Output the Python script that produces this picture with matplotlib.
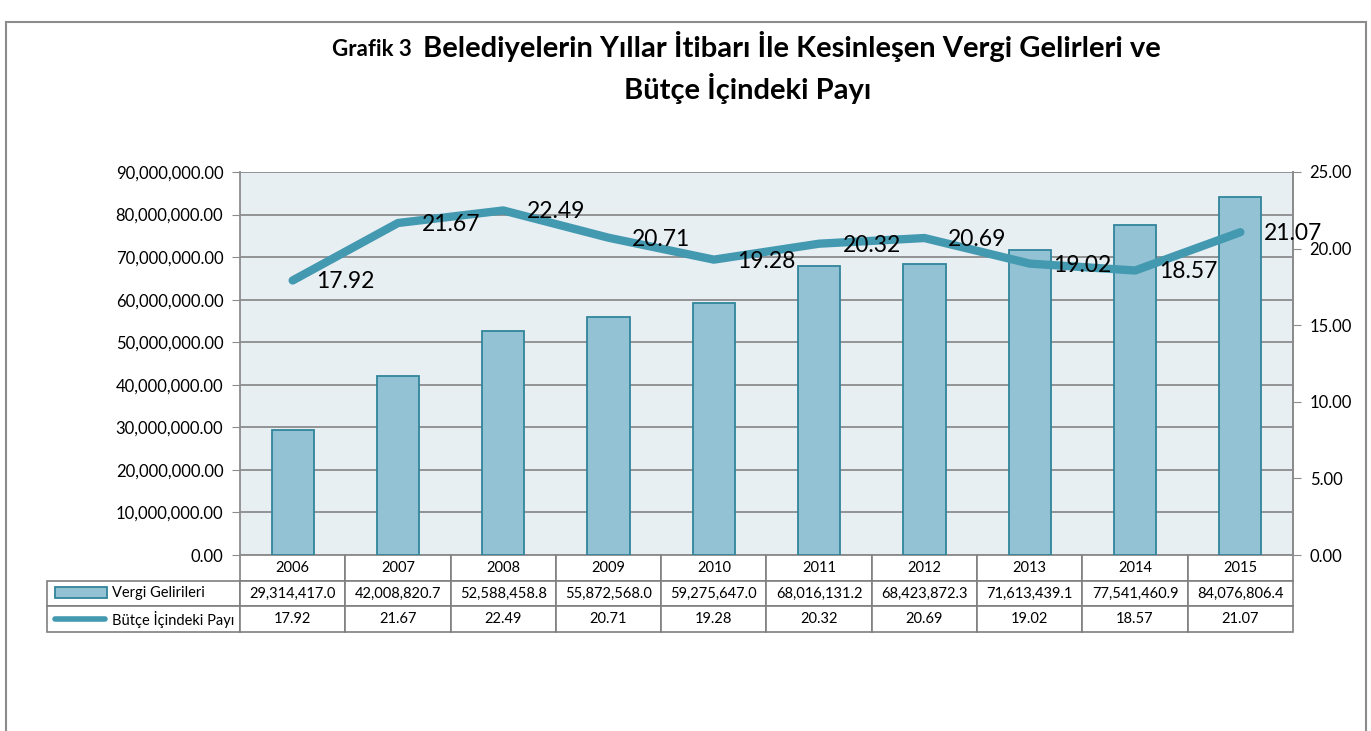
import numpy as np
import matplotlib
matplotlib.use("Agg")
import matplotlib.pyplot as plt
from matplotlib.patches import Rectangle
from matplotlib.lines import Line2D
from matplotlib.ticker import FuncFormatter, MultipleLocator

plt.rcParams['font.family'] = ['Lato', 'DejaVu Sans']

years = ['2006', '2007', '2008', '2009', '2010', '2011', '2012', '2013', '2014', '2015']
vergi = [29314417.0, 42008820.7, 52588458.8, 55872568.0, 59275647.0,
         68016131.2, 68423872.3, 71613439.1, 77541460.9, 84076806.4]
pay = [17.92, 21.67, 22.49, 20.71, 19.28, 20.32, 20.69, 19.02, 18.57, 21.07]
series_names = ['Vergi Gelirileri', 'Bütçe İçindeki Payı']

bar_fill = '#93C2D5'
bar_edge = '#31849B'
line_col = '#4399B0'
grid_col = '#8C8C8C'

W, H = 1371, 731
fig = plt.figure(figsize=(W / 100, H / 100), dpi=100)

# outer frame
fig.patches.append(Rectangle((6 / W, -0.05), 1360 / W, 1.05 - 22 / H,
                             transform=fig.transFigure, fill=False,
                             edgecolor='#8C8C8C', linewidth=1.5))

ax = fig.add_axes([240 / W, 1 - 555 / H, 1053 / W, 383 / H])
ax.set_facecolor('#E8EFF3')
x = np.arange(len(years))
ax.bar(x, vergi, width=0.4, color=bar_fill, edgecolor=bar_edge, linewidth=1.3, zorder=3)
ax.set_xlim(-0.5, len(years) - 0.5)
ax.set_ylim(0, 90000000)
ax.yaxis.set_major_locator(MultipleLocator(10000000))
ax.yaxis.set_major_formatter(FuncFormatter(lambda v, p: f'{v:,.2f}'))
ax.grid(axis='y', color=grid_col, linewidth=1.3, zorder=1)
ax.set_axisbelow(True)
ax.set_xticks([])
for s in ['top', 'bottom']:
    ax.spines[s].set_visible(False)
ax.spines['left'].set_color(grid_col)
ax.spines['left'].set_linewidth(1.3)
ax.spines['right'].set_color(grid_col)
ax.spines['right'].set_linewidth(1.3)
ax.tick_params(axis='y', length=6, color=grid_col, labelsize=12, pad=6)

ax2 = ax.twinx()
ax2.set_ylim(0, 25)
ax2.yaxis.set_major_locator(MultipleLocator(5))
ax2.yaxis.set_major_formatter(FuncFormatter(lambda v, p: f'{v:.2f}'))
ax2.tick_params(axis='y', length=6, color=grid_col, labelsize=12, pad=6)
for s in ['top', 'bottom', 'left']:
    ax2.spines[s].set_visible(False)
ax2.spines['right'].set_color(grid_col)
ax2.spines['right'].set_linewidth(1.3)
ax2.plot(x, pay, color=line_col, linewidth=6, solid_capstyle='round',
         solid_joinstyle='round', zorder=4)
for xi, v in zip(x, pay):
    ax2.annotate(f'{v:.2f}', (xi, v), xytext=(17, -1), textcoords='offset points',
                 ha='left', va='center', fontsize=16.5, color='black', zorder=5)

# data table (bbox covers the data columns only; row labels hang to the left)
cell_text = [[f'{v:,.1f}' for v in vergi], [f'{v:.2f}' for v in pay]]
tab = ax.table(cellText=cell_text, rowLabels=series_names, colLabels=years,
               colWidths=[0.1] * len(years), cellLoc='center', rowLoc='left',
               bbox=[0, -77 / 383, 1, 77 / 383])
tab._autoColumns = []   # keep the row-label column at a fixed width
tab.auto_set_font_size(False)
tab.set_fontsize(10.5)
for (r, c), cell in tab.get_celld().items():
    cell.set_edgecolor('#7F7F7F')
    cell.set_linewidth(1.2)
    if c == -1:
        cell.set_width(193 / 1053)
        cell.PAD = 0.337

# legend keys in the table
ax.add_patch(Rectangle((-185 / 1053, -43 / 383), 52 / 1053, 11 / 383,
                       transform=ax.transAxes, clip_on=False,
                       facecolor=bar_fill, edgecolor=bar_edge, linewidth=1.3))
ax.add_line(Line2D([-185 / 1053, -135 / 1053], [-64 / 383, -64 / 383],
                   transform=ax.transAxes, clip_on=False, color=line_col,
                   linewidth=4, solid_capstyle='round'))

# title
fig.text(423 / W, 1 - 47 / H, 'Belediyelerin Yıllar İtibarı İle Kesinleşen Vergi Gelirleri ve',
         ha='left', va='center', fontsize=21, fontweight='bold')
fig.text(412 / W, 1 - 49 / H, 'Grafik 3', ha='right', va='center',
         fontsize=16, fontweight='bold')
fig.text(748 / W, 1 - 88 / H, 'Bütçe İçindeki Payı', ha='center', va='center',
         fontsize=21, fontweight='bold')

fig.savefig('out.png', dpi=100)
